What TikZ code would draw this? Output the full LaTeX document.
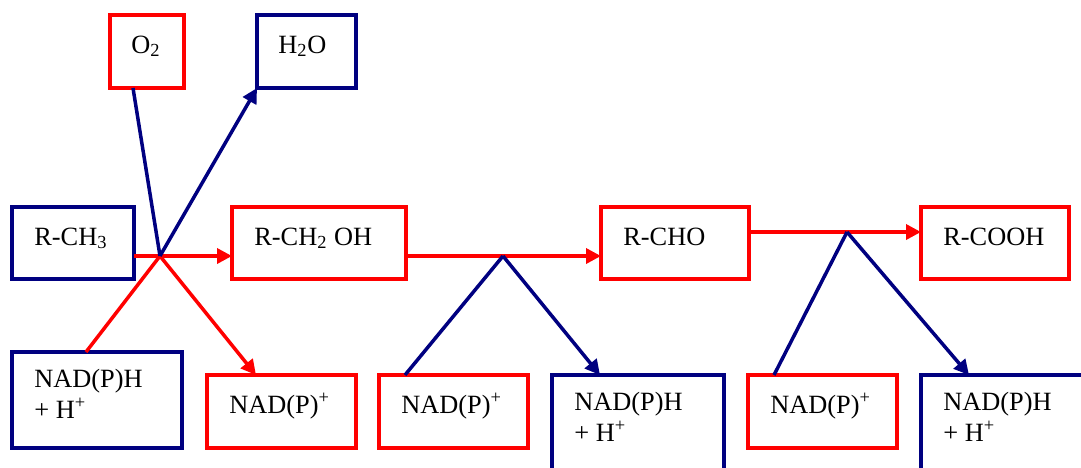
\documentclass[tikz,border=0pt]{standalone}
\usepackage{fontspec}
\setmainfont{Liberation Serif}
\usetikzlibrary{arrows.meta}

% one unit of the drawing grid
\newcommand{\pxu}{0.02cm}
\definecolor{boxred}{RGB}{255,0,0}
\definecolor{boxblue}{RGB}{0,0,128}

\tikzset{
  redbox/.style 2 args={draw=boxred, line width=3.5*\pxu, minimum width=#1*\pxu,
    minimum height=#2*\pxu, anchor=north west, inner sep=0pt, outer sep=0pt},
  bluebox/.style 2 args={redbox={#1}{#2}, draw=boxblue},
  chem/.style={anchor=base west, inner sep=0pt, align=left,
    font=\fontsize{15}{17.6}\selectfont},
  redline/.style={draw=boxred, line width=3.5*\pxu},
  blueline/.style={draw=boxblue, line width=3.5*\pxu},
  arr/.style={-{Triangle[length=15*\pxu, width=15*\pxu]}}
}

\begin{document}
\begin{tikzpicture}[x=0.02cm, y=-0.02cm]

\clip (0,0) rectangle (1081,467);

% Top row: oxygen in, water out
\node[redbox={74}{73}] (o2) at (110,15) {};
\node[chem] (o2txt) at ([shift={(21,38)}]o2.north west) {O\textsubscript{2}};
\node[bluebox={99}{73}] (h2o) at (257,15) {};
\node[chem] (h2otxt) at ([shift={(21,38)}]h2o.north west) {H\textsubscript{2}O};

% Middle row: the oxidation chain
\node[bluebox={122}{72}] (rch3) at (12,207) {};
\node[chem] (rch3txt) at ([shift={(22,38)}]rch3.north west) {R-CH\textsubscript{3}};
\node[redbox={174}{72}] (rch2oh) at (232,207) {};
\node[chem] (rch2ohtxt) at ([shift={(22,38)}]rch2oh.north west) {R-CH\textsubscript{2} OH};
\node[redbox={148}{72}] (rcho) at (601,207) {};
\node[chem] (rchotxt) at ([shift={(22,38)}]rcho.north west) {R-CHO};
\node[redbox={148}{72}] (rcooh) at (921,207) {};
\node[chem] (rcoohtxt) at ([shift={(22,38)}]rcooh.north west) {R-COOH};

% Bottom row: cofactors (base of the two-line labels sits on the last line)
\node[bluebox={170}{96}] (nadh1) at (12,352) {};
\node[chem] (nadh1txt) at ([shift={(22,66)}]nadh1.north west) {NAD(P)H\\+ H\textsuperscript{+}};
\node[redbox={149}{73}] (nadp1) at (207,375) {};
\node[chem] (nadp1txt) at ([shift={(22,38)}]nadp1.north west) {NAD(P)\textsuperscript{+}};
\node[redbox={149}{73}] (nadp2) at (379,375) {};
\node[chem] (nadp2txt) at ([shift={(22,38)}]nadp2.north west) {NAD(P)\textsuperscript{+}};
\node[bluebox={172}{110}] (nadh2) at (552,375) {};
\node[chem] (nadh2txt) at ([shift={(22,66)}]nadh2.north west) {NAD(P)H\\+ H\textsuperscript{+}};
\node[redbox={149}{73}] (nadp3) at (748,375) {};
\node[chem] (nadp3txt) at ([shift={(22,38)}]nadp3.north west) {NAD(P)\textsuperscript{+}};
\node[bluebox={172}{110}] (nadh3) at (921,375) {};
\node[chem] (nadh3txt) at ([shift={(22,66)}]nadh3.north west) {NAD(P)H\\+ H\textsuperscript{+}};

% Branch points on the main arrows
\coordinate (j1) at (160,256);
\coordinate (j2) at (503,256);
\coordinate (j3) at (847,232);

% Step 1: monooxygenase
\draw[redline, arr] (rch3.east |- j1) -- (rch2oh.west |- j1);
\draw[redline] ([shift={(74,0)}]nadh1.north west) -- (j1);
\draw[redline, arr] (j1) -- ([shift={(49,0)}]nadp1.north west);
\draw[blueline] ([shift={(23,0)}]o2.south west) -- (j1);
\draw[blueline, arr] (j1) -- (h2o.south west);

% Step 2: alcohol to aldehyde
\draw[redline, arr] (rch2oh.east |- j2) -- (rcho.west |- j2);
\draw[blueline] ([shift={(26,0)}]nadp2.north west) -- (j2);
\draw[blueline, arr] (j2) -- ([shift={(48,0)}]nadh2.north west);

% Step 3: aldehyde to acid
\draw[redline, arr] (rcho.east |- j3) -- (rcooh.west |- j3);
\draw[blueline] ([shift={(26,0)}]nadp3.north west) -- (j3);
\draw[blueline, arr] (j3) -- ([shift={(48,0)}]nadh3.north west);

\end{tikzpicture}
\end{document}
